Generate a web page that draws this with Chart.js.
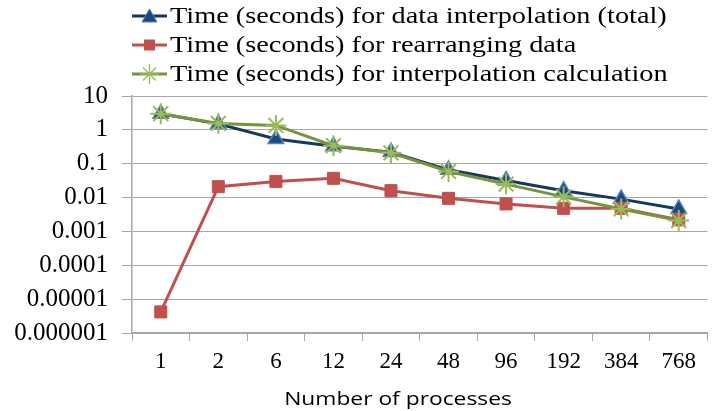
<!DOCTYPE html>
<html>
<head>
<meta charset="utf-8">
<script src="https://cdn.jsdelivr.net/npm/chart.js@4"></script>
<style>
  body { margin: 0; background: #fff; overflow: hidden; }
  #wrap { position: relative; width: 714px; height: 411px; overflow: hidden; }
  #chart { position: absolute; left: 0; top: 0; }
  #legend { position: absolute; left: 132px; top: 1px; font: 24px "Liberation Serif", serif; color: #000; }
  #legend div { height: 29px; display: flex; align-items: center; white-space: nowrap; }
  #legend svg { margin-right: 3px; flex: none; }
  #legend span { display: inline-block; transform: scaleX(1.18); transform-origin: left center; }
  #xtitle { position: absolute; left: 0; width: 796px; top: 385px; text-align: center;
            font: 19px "Open Sans", "Noto Sans", sans-serif; color: #000;
            transform: scaleX(1.2); transform-origin: 398px center; }
</style>
</head>
<body>
<div id="wrap">
  <canvas id="chart" width="720" height="411"></canvas>
  <div id="legend"></div>
  <div id="xtitle">Number of processes</div>
</div>
<script>
'use strict'

const processes = ['1', '2', '6', '12', '24', '48', '96', '192', '384', '768'];
const totalTime = [3.0, 1.5, 0.54, 0.33, 0.22, 0.066, 0.032, 0.016, 0.009, 0.0046];
const rearrangeTime = [0.0000042, 0.021, 0.030, 0.037, 0.016, 0.0095, 0.0065, 0.0048, 0.0048, 0.0022];
const calcTime = [3.0, 1.55, 1.35, 0.34, 0.21, 0.059, 0.025, 0.0105, 0.0046, 0.0021];
const yTicks = [10, 1, 0.1, 0.01, 0.001, 0.0001, 0.00001, 0.000001];
const yLabels = ['10', '1', '0.1', '0.01', '0.001', '0.0001', '0.00001', '0.000001'];

const serif = '"Liberation Serif", "Times New Roman", serif';

new Chart(document.getElementById('chart'), {
  type: 'line',
  data: {
    labels: processes,
    datasets: [{
      label: 'Time (seconds) for data interpolation (total)',
      data: totalTime,
      borderColor: '#17375E',
      borderWidth: 3,
      pointStyle: 'triangle',
      pointRadius: 9,
      pointBackgroundColor: '#1F497D',
      pointBorderColor: '#4F81BD',
      pointBorderWidth: 1.5,
      tension: 0,
      order: 3
    }, {
      label: 'Time (seconds) for rearranging data',
      data: rearrangeTime,
      borderColor: '#C0504D',
      borderWidth: 3,
      pointStyle: 'rect',
      pointRadius: 8.5,
      pointBackgroundColor: '#C0504D',
      pointBorderColor: '#C0504D',
      pointBorderWidth: 1,
      tension: 0,
      order: 2
    }, {
      label: 'Time (seconds) for interpolation calculation',
      data: calcTime,
      borderColor: '#77933C',
      borderWidth: 3,
      pointStyle: 'star',
      pointRadius: 10.5,
      pointBackgroundColor: '#9BBB59',
      pointBorderColor: '#9BBB59',
      pointBorderWidth: 2,
      tension: 0,
      order: 1
    }]
  },
  options: {
    responsive: false,
    animation: false,
    layout: { padding: { top: 96, right: 0, left: 0, bottom: 0 } },
    plugins: {
      legend: { display: false },
      tooltip: { enabled: false }
    },
    scales: {
      x: {
        offset: true,
        grid: {
          offset: true,
          drawOnChartArea: false,
          drawTicks: true,
          tickLength: 8,
          color: '#a6a6a6'
        },
        border: { color: '#a6a6a6', width: 1.5 },
        ticks: { color: '#000', font: { family: serif, size: 23 }, padding: 7 },
        afterFit: (axis) => { axis.height = 78 }
      },
      y: {
        type: 'logarithmic',
        min: 0.000001,
        max: 10,
        afterBuildTicks: (axis) => { axis.ticks = yTicks.map(v => ({ value: v })) },
        grid: {
          color: '#a6a6a6',
          borderDash: [4, 2, 1, 2],
          tickLength: 10
        },
        border: { color: '#a6a6a6', width: 1.5 },
        ticks: {
          color: '#000',
          font: { family: serif, size: 25 },
          padding: 14,
          callback: (v) => yLabels[yTicks.indexOf(v)]
        },
        afterFit: (axis) => { axis.width = 132 }
      }
    }
  }
});

// legend drawn as html so rows can be left aligned like the original
const legendItems = [
  { text: 'Time (seconds) for data interpolation (total)', line: '#17375E',
    mark: '<polygon points="17.5,3 25,16 10,16" fill="#1F497D" stroke="#4F81BD" stroke-width="1"/>' },
  { text: 'Time (seconds) for rearranging data', line: '#C0504D',
    mark: '<rect x="12" y="4.5" width="11" height="11" fill="#C0504D"/>' },
  { text: 'Time (seconds) for interpolation calculation', line: '#77933C',
    mark: '<g stroke="#9BBB59" stroke-width="1.3"><line x1="17.5" y1="0" x2="17.5" y2="20"/><line x1="8" y1="10" x2="27" y2="10"/><line x1="11" y1="3.5" x2="24" y2="16.5"/><line x1="24" y1="3.5" x2="11" y2="16.5"/></g>' }
];
document.getElementById('legend').innerHTML = legendItems.map(item =>
  '<div><svg width="35" height="20"><line x1="0" y1="10" x2="35" y2="10" stroke="' + item.line +
  '" stroke-width="3"/>' + item.mark + '</svg><span>' + item.text + '</span></div>'
).join('');
</script>
</body>
</html>
